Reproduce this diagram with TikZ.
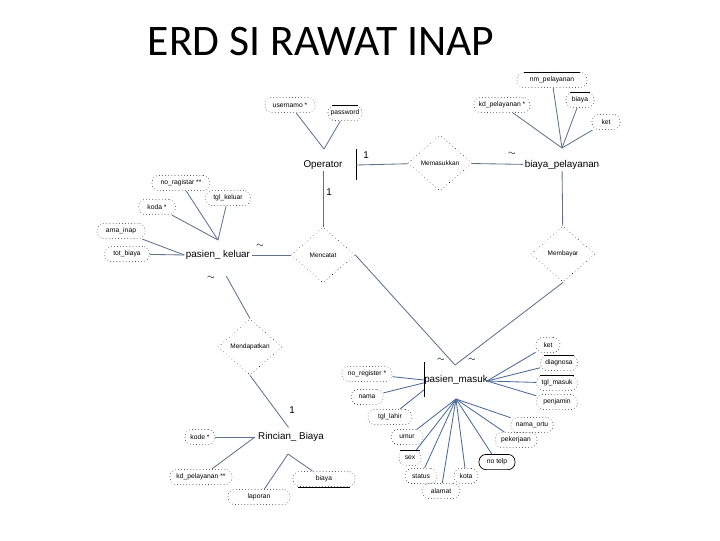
\documentclass[tikz,border=0pt]{standalone}
\usepackage{fontspec}
\setmainfont{Liberation Sans}
\newfontfamily\titlefont{Carlito}
\usetikzlibrary{shapes.geometric}
\definecolor{lnc}{RGB}{95,115,140}
\definecolor{pmc}{RGB}{75,105,155}
\begin{document}
\begin{tikzpicture}[x=0.025cm,y=-0.025cm,
  ent/.style={font=\fontsize{7}{8}\selectfont, inner sep=1pt},
  attr/.style={draw=black!85, line width=0.6pt, dash pattern=on 0.01pt off 2.2pt, line cap=round,
    rounded corners=5pt, minimum height=0.38cm, inner sep=1pt, font=\fontsize{4.8}{5}\selectfont},
  rel/.style={diamond, draw=black!85, line width=0.6pt, dash pattern=on 0.01pt off 2.6pt, line cap=round,
    minimum width=1.6cm, minimum height=1.4cm, inner sep=0pt, font=\fontsize{4.6}{5}\selectfont},
  ln/.style={draw=lnc, line width=0.6pt},
  lb/.style={ln, draw=pmc},
  bar/.style={draw=black, line width=0.6pt},
  card/.style={font=\fontsize{7}{8}\selectfont, inner sep=0pt},
  tl/.style={font=\fontsize{6}{6}\selectfont, inner sep=0pt},
  ovl/.style={draw=black, line width=0.5pt}
]
\useasboundingbox (0,0) rectangle (720,540);

% title
\node[font=\titlefont\fontsize{31}{36}\selectfont, anchor=west] (title) at (143,42) {ERD SI RAWAT INAP};

% entities
\node[ent] (op) at (323,165) {Operator};
\node[ent] (bp) at (562,165) {biaya\_pelayanan};
\node[ent] (pk) at (218,255) {pasien\_ keluar};
\node[ent] (pm) at (456,380) {pasien\_masuk};
\node[ent] (rb) at (291,437) {Rincian\_ Biaya};

% relationships
\node[rel] (mem) at (440,163) {Memasukkan};
\node[rel] (men) at (323,255) {Mencatat};
\node[rel] (mby) at (563,254) {Membayar};
\node[rel] (mdp) at (250,347) {Mendapatkan};

% junction points
\coordinate (opA) at (324,149);
\coordinate (bpA) at (562,148);
\coordinate (pkA) at (218,240);
\coordinate (opbar) at (356,165);
\coordinate (pmbar) at (424,380);
\coordinate (pmT) at (455,365);
\coordinate (pmR) at (487,381);
\coordinate (pmB) at (456,399);
\coordinate (rbL) at (255,437);
\coordinate (rbB) at (288,454);

% bars (one-side marks)
\draw[bar] (opbar) ++(0,-16) -- ++(0,31);
\draw[bar] (pmbar) ++(0,-18) -- ++(0,35);

% relationship connectors
\draw[ln] (opbar) -- (mem);
\draw[ln] (mem) -- (bp);
\draw[ln] (op) -- (men);
\draw[ln] (pk) -- (men);
\draw[ln] (bp) -- (mby);
\draw[ln] (men.east) -- (pmT);
\draw[ln] (mby.south) -- (pmT);
\draw[ln, shorten <=12pt] (pk.south) -- (mdp.north);
\draw[ln, shorten >=3pt] (mdp.south) -- (rb.north);

% cardinalities
\node[card] (c1) at (366,155) {1};
\node[card] (c2) at (329,192) {1};
\node[card] (c3) at (292,410) {1};
\node[tl] (t1) at (512,154) {$\sim$};
\node[tl] (t2) at (260,246) {$\sim$};
\node[tl] (t3) at (211,278) {$\sim$};
\node[tl] (t4) at (441,360) {$\sim$};
\node[tl] (t5) at (472,360) {$\sim$};

% Operator attributes
\node[attr, minimum width=1.25cm] (user) at (290,105) {usernamo *};
\node[attr, minimum width=0.85cm] (pass) at (345,113) {password};
\draw[ovl] ([xshift=3pt]pass.north west) -- ([xshift=-3pt]pass.north east);
\draw[ln] (user) -- (opA);
\draw[ln] (pass) -- (opA);

% biaya_pelayanan attributes
\node[attr, minimum width=1.75cm] (nmp) at (552,80) {nm\_pelayanan};
\draw[ovl] ([xshift=5pt]nmp.north west) -- ([xshift=-5pt]nmp.north east);
\node[attr, minimum width=0.7cm] (bya) at (580,100) {biaya};
\draw[ovl] ([xshift=3pt]bya.north west) -- ([xshift=-3pt]bya.north east);
\node[attr, minimum width=1.4cm] (kdp) at (502,105) {kd\_pelayanan *};
\node[attr, minimum width=0.7cm] (ket1) at (606,122) {ket};
\draw[ln] (nmp) -- (bpA);
\draw[ln] (bya) -- (bpA);
\draw[ln] (kdp) -- (bpA);
\draw[ln] (ket1) -- (bpA);

% pasien_keluar attributes
\node[attr, minimum width=1.45cm] (noreg) at (181,183) {no\_ragistar **};
\node[attr, minimum width=1.12cm] (tglk) at (228,198) {tgl\_keluar};
\node[attr, minimum width=0.92cm] (koda) at (157,207) {koda *};
\node[attr, minimum width=1.2cm] (arna) at (121,231) {arna\_inap};
\node[attr, minimum width=1.12cm] (totb) at (127,254) {tot\_biaya};
\draw[ln] (noreg) -- (pkA);
\draw[ln] (tglk) -- (pkA);
\draw[ln] (koda) -- (pkA);
\draw[ln] (arna) -- (pk.west);
\draw[ln] (totb) -- (pk.west);

% pasien_masuk attributes (right)
\node[attr, minimum width=0.6cm] (ket2) at (548,345) {ket};
\node[attr, minimum width=0.92cm] (diag) at (559,363) {diagnosa};
\draw[ovl] ([xshift=3pt]diag.north west) -- ([xshift=-3pt]diag.north east);
\node[attr, minimum width=1.02cm] (tglm) at (557,383) {tgl\_masuk};
\draw[ovl] ([xshift=3pt]tglm.north west) -- ([xshift=-3pt]tglm.north east);
\node[attr, minimum width=1.02cm] (penj) at (557,402) {penjamin};
\draw[lb] (ket2) -- (pmR);
\draw[lb] (diag) -- (pmR);
\draw[lb] (tglm) -- (pmR);
\draw[lb] (penj) -- (pmR);

% pasien_masuk attributes (left)
\node[attr, minimum width=1.25cm] (noreg2) at (367,374) {no\_register *};
\node[attr, minimum width=0.8cm] (nama) at (367,397) {nama};
\node[attr, minimum width=1.1cm] (tgll) at (390,417) {tgl\_lahir};
\draw[lb] (noreg2) -- (pmbar);
\draw[lb] (nama) -- ([yshift=-2pt]pmbar);
\draw[lb] (tgll) -- ([yshift=-7pt]pmbar);

% pasien_masuk attributes (bottom)
\node[attr, minimum width=1.05cm] (ortu) at (532,425) {nama\_ortu};
\node[attr, minimum width=1.05cm] (pkj) at (516,440) {pekerjaan};
\node[attr, minimum width=0.9cm, solid, line cap=butt, draw=black, line width=0.5pt] (telp) at (497,462) {no telp};
\node[attr, minimum width=0.6cm] (kota) at (466,476) {kota};
\node[attr, minimum width=0.95cm] (alam) at (441,491) {alamat};
\node[attr, minimum width=0.8cm] (stat) at (421,476) {status};
\node[attr, minimum width=0.55cm] (sex) at (410,458) {sex};
\draw[ovl] ([xshift=1pt]sex.north west) -- ([xshift=-1pt]sex.north east);
\node[attr, minimum width=0.8cm] (umur) at (407,437) {umur};
\foreach \a in {ortu,pkj,telp,kota,alam,stat,sex,umur}
  \draw[lb] (\a) -- (pmB);

% Rincian_Biaya attributes
\node[attr, minimum width=0.75cm] (kode) at (200,437) {kode *};
\node[attr, minimum width=1.55cm] (kdp2) at (201,477) {kd\_pelayanan **};
\node[attr, minimum width=1.55cm] (lap) at (259,497) {laporan};
\node[attr, minimum width=1.55cm] (bya2) at (324,479) {biaya};
\draw[ovl] ([xshift=4pt]bya2.south west) -- ([xshift=-4pt]bya2.south east);
\draw[ln] (kode) -- (rbL);
\draw[ln] (kdp2) -- (rbL);
\draw[ln] (lap) -- (rbB);
\draw[ln] (bya2) -- (rbB);
\end{tikzpicture}
\end{document}
